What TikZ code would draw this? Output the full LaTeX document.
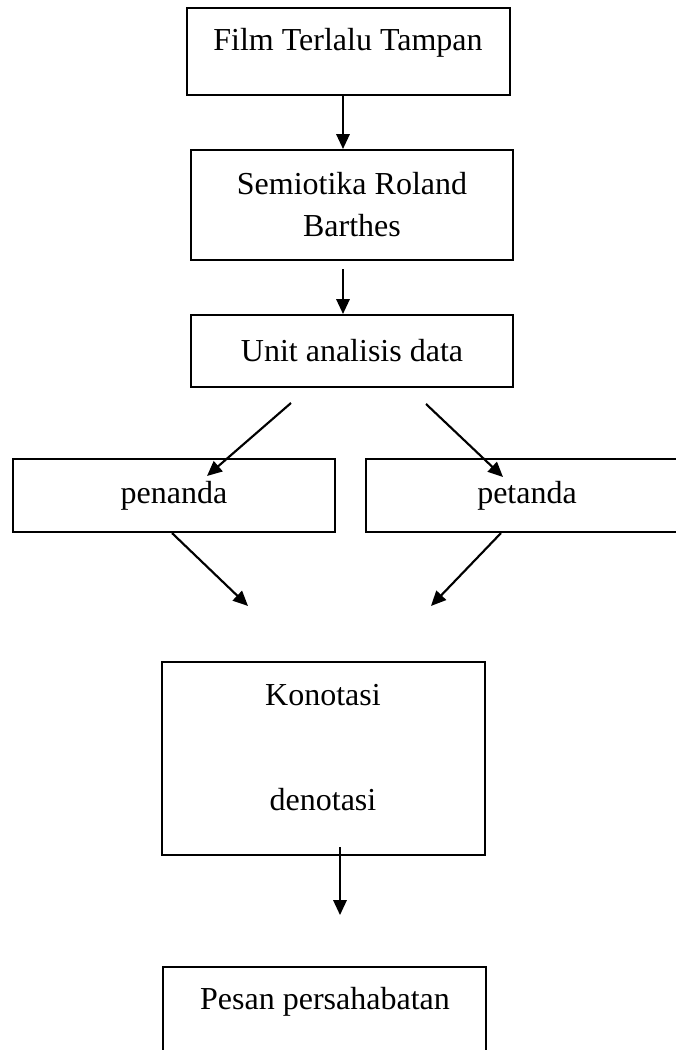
\documentclass[tikz,border=0pt]{standalone}
\usepackage{fontspec}
\setmainfont{Liberation Serif}
\usetikzlibrary{arrows.meta}
\tikzset{
  box/.style={rectangle,draw=black,line width=.75pt,minimum width=121pt,inner sep=0pt,align=center,font=\fontsize{12}{15.75}\selectfont},
  lbl/.style={inner sep=0pt,font=\fontsize{12}{14}\selectfont},
  arr/.style={-{Triangle[length=5.6pt,width=5pt]},line width=.8pt,black},
}

\begin{document}
\begin{tikzpicture}[x=0.375pt,y=-0.375pt]
  \useasboundingbox (0,0) rectangle (675,1050);
  % boxes
  \node[box,minimum height=32.6pt] (film) at (348.5,51.5) {};
  \node[lbl] (tfilm) at (348,43) {Film Terlalu Tampan};
  \node[box,minimum height=41.25pt] (semi) at (352,205) {Semiotika Roland\\Barthes};
  \node[box,minimum height=27pt] (unit) at (352,351) {Unit analisis data};
  \node[box,minimum height=27.4pt] (penanda) at (174,495.5) {penanda};
  \node[box,minimum height=27.4pt] (petanda) at (527,495.5) {petanda};
  \node[box,minimum height=72.4pt] (kono) at (323.5,758.5) {};
  \node[lbl] (tkono) at (323,695) {Konotasi};
  \node[lbl] (tdeno) at (323,800) {denotasi};
  \node[box,minimum height=32.6pt] (pesan) at (324.5,1010.5) {};
  \node[lbl] (tpesan) at (325,1002) {Pesan persahabatan};
  % arrows
  \draw[arr] ([shift={(-5.5,0)}]film.south) -- ([shift={(-9,0)}]semi.north);
  \draw[arr] ([shift={(-9,8)}]semi.south) -- ([shift={(-9,0)}]unit.north);
  \draw[arr] ([shift={(-61,15)}]unit.south) -- ([shift={(33,18)}]penanda.north);
  \draw[arr] ([shift={(74,16)}]unit.south) -- ([shift={(-24,19)}]petanda.north);
  \draw[arr] ([shift={(-2,0)}]penanda.south) -- ([shift={(-75.5,-55)}]kono.north);
  \draw[arr] ([shift={(-26,0)}]petanda.south) -- ([shift={(107.5,-55)}]kono.north);
  \draw[arr] ([shift={(16.5,-9)}]kono.south) -- ([shift={(15.5,-51)}]pesan.north);
\end{tikzpicture}
\end{document}
